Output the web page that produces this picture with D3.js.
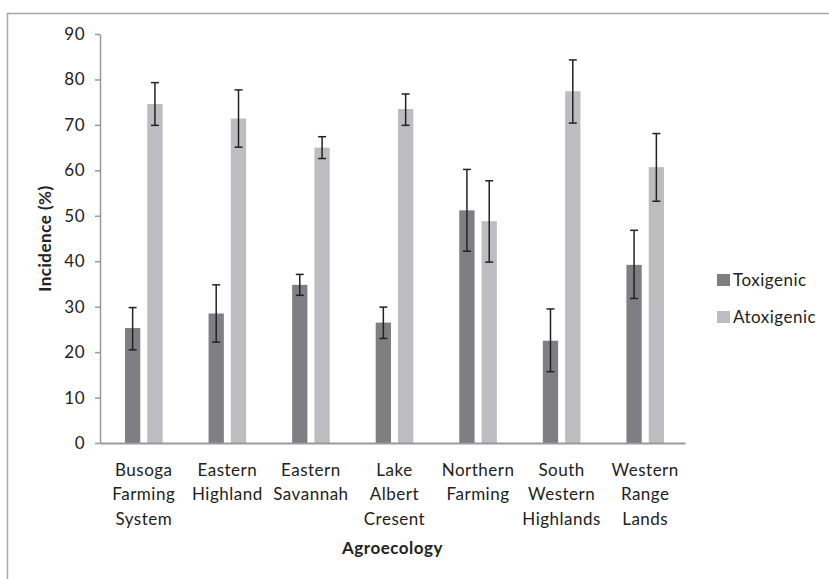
<!DOCTYPE html>
<html>
<head>
<meta charset="utf-8">
<script src="https://cdn.jsdelivr.net/npm/d3@7"></script>
<style>
  body { margin: 0; background: #fff; }
  text { font-family: Lato, "Open Sans", sans-serif; fill: #222; letter-spacing: 0.5px; }
</style>
</head>
<body>
<script>
const categories = [
    ["Busoga", "Farming", "System"],
    ["Eastern", "Highland"],
    ["Eastern", "Savannah"],
    ["Lake", "Albert", "Cresent"],
    ["Northern", "Farming"],
    ["South", "Western", "Highlands"],
    ["Western", "Range", "Lands"]
];
const series = ["Toxigenic", "Atoxigenic"];
const toxigenic = [25.3, 28.5, 34.8, 26.5, 51.2, 22.5, 39.2];
const toxigenicLow = [20.5, 22.2, 32.5, 23.0, 42.2, 15.7, 31.8];
const toxigenicHigh = [29.8, 34.8, 37.1, 29.9, 60.2, 29.5, 46.8];
const atoxigenic = [74.6, 71.4, 65.0, 73.5, 48.8, 77.4, 60.7];
const atoxigenicLow = [69.9, 65.1, 62.6, 69.9, 39.8, 70.4, 53.2];
const atoxigenicHigh = [79.3, 77.7, 67.4, 76.8, 57.7, 84.3, 68.1];
const yTicks = [0, 10, 20, 30, 40, 50, 60, 70, 80, 90];

const colors = { Toxigenic: "#7f7f83", Atoxigenic: "#bdbdc1" };

const width = 829;
const height = 579;
const margin = { left: 100, right: 144, top: 34, bottom: 136 };

const svg = d3.select("body")
    .append("svg")
    .attr("width", width)
    .attr("height", height);

// outer frame (only top and left edges show in the crop)
svg.append("path")
    .attr("d", "M7.5," + height + "V13.5H" + width)
    .attr("fill", "none")
    .attr("stroke", "#a6a6a6")
    .attr("stroke-width", 1.5);

const names = categories.map(c => c.join(" "));

const x = d3.scaleBand()
    .domain(names)
    .range([margin.left, width - margin.right]);

const bw = x.bandwidth();
const xSub = d3.scaleBand()
    .domain(series)
    .range([bw / 2 - 16.8, bw / 2 + 20.8])
    .paddingInner(0.314);

const y = d3.scaleLinear()
    .domain([0, 90])
    .range([height - margin.bottom, margin.top]);

const rows = [];
names.forEach((name, i) => {
    rows.push({ name, key: "Toxigenic", value: toxigenic[i], lo: toxigenicLow[i], hi: toxigenicHigh[i] });
    rows.push({ name, key: "Atoxigenic", value: atoxigenic[i], lo: atoxigenicLow[i], hi: atoxigenicHigh[i] });
});

svg.selectAll("rect.bar")
    .data(rows)
    .enter()
    .append("rect")
    .attr("class", "bar")
    .attr("x", d => x(d.name) + xSub(d.key))
    .attr("width", xSub.bandwidth())
    .attr("y", d => y(d.value))
    .attr("height", d => y(0) - y(d.value))
    .style("fill", d => colors[d.key]);

// y axis
const yAxis = svg.append("g")
    .attr("transform", "translate(" + margin.left + ",0)")
    .call(d3.axisLeft(y).tickValues(yTicks).tickSize(5).tickPadding(10).tickSizeOuter(0));
yAxis.select(".domain").attr("stroke", "#999").attr("stroke-width", 1.5);
yAxis.selectAll(".tick line").attr("stroke", "#999").attr("stroke-width", 1.5);
yAxis.selectAll(".tick text")
    .style("font-size", "17px")
    .style("font-family", "Lato, sans-serif")
    .attr("fill", "#222");

// x axis
const xAxis = svg.append("g")
    .attr("transform", "translate(0," + y(0) + ")")
    .call(d3.axisBottom(x).tickSize(0).tickFormat(""));
xAxis.select(".domain").attr("stroke", "#999").attr("stroke-width", 2);

const xLabels = svg.selectAll("text.xlab")
    .data(categories)
    .enter()
    .append("text")
    .attr("class", "xlab")
    .attr("text-anchor", "middle")
    .style("font-size", "17px");

xLabels.selectAll("tspan")
    .data((d, i) => d.map(t => ({ t, name: names[i] })))
    .enter()
    .append("tspan")
    .attr("x", d => x(d.name) + bw / 2 + 2)
    .attr("y", (d, i) => y(0) + 33 + i * 24.3)
    .text(d => d.t);

// error bars
const errs = svg.append("g").attr("stroke", "#222").attr("stroke-width", 1.5);
rows.forEach(d => {
    const cx = x(d.name) + xSub(d.key) + xSub.bandwidth() / 2;
    errs.append("line").attr("x1", cx).attr("x2", cx).attr("y1", y(d.lo)).attr("y2", y(d.hi));
    errs.append("line").attr("x1", cx - 4).attr("x2", cx + 4).attr("y1", y(d.lo)).attr("y2", y(d.lo));
    errs.append("line").attr("x1", cx - 4).attr("x2", cx + 4).attr("y1", y(d.hi)).attr("y2", y(d.hi));
});

// axis titles
svg.append("text")
    .attr("x", (margin.left + width - margin.right) / 2)
    .attr("y", 554)
    .attr("text-anchor", "middle")
    .style("font-size", "17px")
    .style("font-weight", "bold")
    .text("Agroecology");

svg.append("text")
    .attr("transform", "translate(51," + (y(45)) + ") rotate(-90)")
    .attr("text-anchor", "middle")
    .style("font-size", "17px")
    .style("font-weight", "bold")
    .text("Incidence (%)");

// legend
const legend = svg.append("g").attr("transform", "translate(717,274)");
legend.selectAll("rect")
    .data(series)
    .enter()
    .append("rect")
    .attr("x", 0)
    .attr("y", (d, i) => i * 37)
    .attr("width", 13)
    .attr("height", 12)
    .style("fill", d => colors[d]);
legend.selectAll("text")
    .data(series)
    .enter()
    .append("text")
    .attr("x", 16)
    .attr("y", (d, i) => i * 37 + 12)
    .style("font-size", "17px")
    .text(d => d);
</script>
</body>
</html>
